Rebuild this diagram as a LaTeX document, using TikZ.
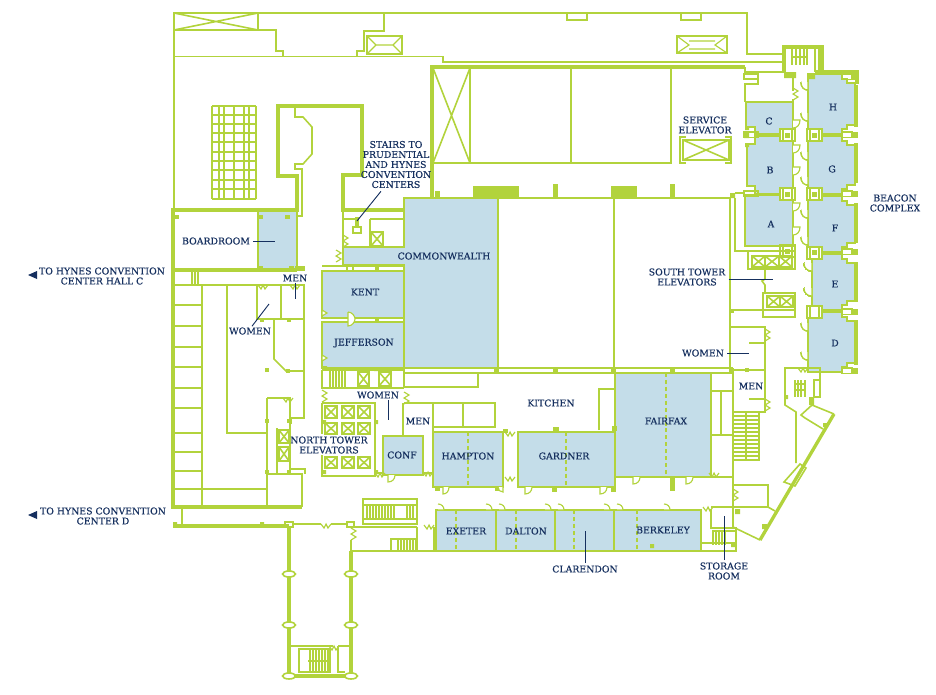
\documentclass[tikz,border=0pt]{standalone}
\usepackage{fontspec}
\setmainfont{DejaVu Serif}
\newfontfamily\planfont[FakeBold=0.25]{DejaVu Serif}
\definecolor{planline}{HTML}{B2D33C}
\definecolor{roomblue}{HTML}{C4DDE9}
\definecolor{labelnavy}{HTML}{16305F}
\tikzset{
  wall/.style={draw=planline,line width=1.2pt},
  thickwall/.style={draw=planline,line width=2.5pt},
  fine/.style={draw=planline,line width=.85pt},
  room/.style={fill=roomblue,draw=planline,line width=1.15pt},
  pillar/.style={fill=planline,draw=none},
  partition/.style={draw=planline,line width=1.1pt,dash pattern=on 3pt off 2.2pt},
  roomtext/.style={text=labelnavy,font=\planfont\fontsize{7}{7.5}\selectfont,align=center,inner sep=0pt},
  leader/.style={draw=labelnavy,line width=.7pt},
}
\newcommand{\crossbox}[4]{\draw [wall] (#1,#2) rectangle (#3,#4) (#1,#2) -- (#3,#4) (#1,#4) -- (#3,#2);}
\newcommand{\doorswing}[4]{\filldraw [fine,fill=white] (#1,#2) -- (#1+#3,#2) .. controls (#1+#3,#2+.6*#4) and (#1+.6*#3,#2+#4) .. (#1,#2+#4);}
\newcommand{\doorleaf}[4]{\filldraw [fine,fill=white] (#1,#2) -- (#1,#2+#4) .. controls (#1+.6*#3,#2+#4) and (#1+#3,#2+.6*#4) .. (#1+#3,#2);}
\newcommand{\notchh}[2]{\draw [fine] (#1,#2) -- (#1+3,#2+4) -- (#1+5,#2) -- (#1+7,#2+4) -- (#1+10,#2);}
\newcommand{\notchv}[2]{\draw [fine] (#1,#2) -- (#1+5,#2+3) -- (#1,#2+6) -- (#1+5,#2+9) -- (#1,#2+12);}
\newcommand{\pierbox}[2]{\filldraw [wall,fill=white] (#1,#2) rectangle (#1+15,#2+12) (#1+3,#2) -- (#1+3,#2+12) (#1+12,#2) -- (#1+12,#2+12);}
\newcommand{\wingroom}[3]{\draw [room] (#1,#2) -- (842,#2) -- (842,#2+5) -- (847,#2+5) -- (847,#2+9) -- (855,#2+9) -- (855,#3-9) -- (847,#3-9) -- (847,#3-5) -- (842,#3-5) -- (842,#3) -- (#1,#3) -- cycle;}
\begin{document}
\begin{tikzpicture}[x=0.75pt,y=-0.75pt]
\useasboundingbox (0,0) rectangle (936,694);
% rooms
\draw [room] (258,210) rectangle (297,270);
\draw [room] (343,247) -- (404,247) -- (404,198) -- (498,198) -- (498,368) -- (404,368) -- (404,265) -- (343,265) -- cycle;
\draw [room] (322,271) rectangle (404,318);
\draw [room] (322,322) rectangle (404,368);
\draw [room] (383,436) rectangle (423,475);
\draw [room] (433,432) rectangle (503,487);
\draw [room] (518,432) rectangle (615,487);
\draw [room] (615,373) rectangle (711,477);
\draw [room] (436,510) rectangle (496,551);
\draw [room] (496,510) rectangle (555,551);
\draw [room] (555,510) rectangle (614,551);
\draw [room] (614,510) rectangle (701,551);
\draw [room] (746,102) -- (793,102) -- (793,134) -- (755,134) -- (755,127) -- (746,127) -- cycle;
\draw [room] (755,136) -- (793,136) -- (793,194) -- (755,194) -- (755,186) -- (747,186) -- (747,144) -- (755,144) -- cycle;
\draw [room] (745,195) rectangle (793,246);
\wingroom{808}{74}{134}
\wingroom{808}{136}{194}
\wingroom{808}{196}{252}
\wingroom{812}{254}{310}
\wingroom{808}{312}{372}
\foreach \xx/\ya/\yb in {468/432/487,566/432/487,666/373/477,456/510/551,516/510/551,574/510/551,637/510/551}
  \draw [partition] (\xx,\ya) -- (\xx,\yb);
% top of the building
\draw [wall] (174,210) -- (174,13) -- (747,13) -- (747,54) -- (785,54);
\crossbox{174}{13}{258}{30}
\draw [wall] (258,30) -- (276,30) -- (276,51) -- (283,51) -- (283,56.5);
\draw [wall] (174,56.5) -- (443,56.5) -- (443,62) -- (785,62);
\draw [wall] (384,13) -- (384,31) -- (364,31) -- (364,51) -- (357,51) -- (357,56.5);
\draw [thickwall,line width=1.5pt] (367,36) rectangle (402,54);
\draw [fine] (367,36) -- (376,45) -- (367,54) (402,36) -- (393,45) -- (402,54) (376,45) -- (393,45);
\draw [thickwall,line width=1.5pt] (677,36) rectangle (727,53);
\draw [fine] (677,36) -- (689,45) -- (677,53) (727,36) -- (715,45) -- (727,53) (689,41) -- (715,41) (689,49) -- (715,49);
\foreach \xx in {567,681}
  \draw [wall] (\xx,13) -- (\xx,20) -- (\xx+20,20) -- (\xx+20,13);
% grid
\foreach \xx in {212,219,224,234,244,249,256}
  \draw [wall] (\xx,106) -- (\xx,199);
\foreach \yy in {106,115,124,133,142,152,161,170,180,189,199}
  \draw [wall] (212,\yy) -- (256,\yy);
% boardroom and centre court
\draw [thickwall] (173,270) -- (173,210) -- (297,210) -- (297,176) -- (278,176) -- (278,106) -- (362,106) -- (362,175) -- (343,175) -- (343,210) -- (403,210);
\draw [thickwall] (173,270) -- (297,270);
\draw [wall] (295,106) -- (295,117) -- (303,117) -- (312,127) -- (312,154) -- (303,164) -- (295,164) -- (295,169) -- (302,169) -- (302,216) -- (297,216);
\draw [wall] (343,212) -- (343,247) (343,219) -- (355,219) (370,219) -- (403,219) (370,219) -- (370,247);
\crossbox{371}{232}{383}{246}
\draw [wall] (353,227) rectangle (361,233);
\fill [pillar] (355,217) rectangle (358.5,227);
\notchv{343}{235}
\notchv{336}{250}
\foreach \xx/\yy in {174/215,258/215,285/215,258/266,289/266}
  \fill [pillar] (\xx,\yy) rectangle ++(5,4);
\fill [pillar] (295,266) rectangle (305,271);
% main hall
\draw [thickwall] (432,198) -- (432,67) -- (745,67);
\crossbox{433}{68}{470}{163}
\draw [wall] (470,163) -- (671,163) -- (671,68) (571,68) -- (571,163);
\draw [wall] (498,198) -- (730,198) -- (730,370) (498,198) -- (498,368) (614,198) -- (614,368);
\foreach \xa/\xb/\yy in {435/440/191,473/519/186,553/558/184,611/637/186,670/675/184,730/735/193}
  \fill [pillar] (\xa,\yy) rectangle (\xb,198);
\draw [wall] (404,373) -- (733,373) (498,368) -- (733,368);
\foreach \xx in {494,553,611,670,729}
  \fill [pillar] (\xx,368) rectangle ++(5,5);
\crossbox{683}{140}{729}{160}
\draw [wall] (680,141) -- (680,137) -- (686,137) (731,141) -- (731,137) -- (725,137) (680,159) -- (680,163) -- (686,163) (731,159) -- (731,163) -- (725,163) (680,141) -- (680,159) (731,141) -- (731,159);
% kent and jefferson
\draw [wall] (322,266) -- (404,266) (347,266) -- (347,271) (353,266) -- (353,271);
\fill [pillar] (375,266) rectangle ++(4,5);
\filldraw [fine,fill=white] (348,312) -- (348,326) .. controls (352,326) and (355,322) .. (355,319) .. controls (355,316) and (352,312) .. (348,312);
\fill [pillar] (375,318) rectangle ++(4,4);
\foreach \yy in {310,355}
  \filldraw [fine,fill=white] (322,\yy) -- (327,\yy+3) -- (322,\yy+6) -- cycle;
% wing of small rooms
\draw [wall] (745,67) -- (745,72) -- (784,72) (758,74) -- (758,84) -- (745,84) -- (745,102);
\draw [wall] (744,74) rectangle (758,79);
\draw [wall] (793,72) -- (793,91) (793,99) -- (793,102);
\notchv{793}{88}
\draw [thickwall] (784,73) -- (784,47) -- (822,47) -- (822,73) (815,72) -- (857,72) -- (857,84);
\foreach \xx in {792,796,800,804,807}
  \draw [fine] (\xx,49) -- (\xx,65);
\draw [fine] (791,57) -- (807,57);
\draw [fine] (815,48) -- (815,72) (819,48) -- (819,72);
\fill [pillar] (784,72) rectangle (796,78) (807,73) rectangle (815,79);
\foreach \ya/\yb in {85/127,143/183,203/243,262/302,320/365}
  \draw [thickwall] (856,\ya) -- (856,\yb);
\foreach \yy in {74,132,191,249,309,368}{
  \draw [wall] (842,\yy) rectangle (852,\yy+5.5);
  \fill [pillar] (851,\yy-.5) rectangle (858,\yy+6);
}
\foreach \yy in {132,191}{
  \draw [wall] (744,\yy) rectangle (758,\yy+5.5);
}
\fill [pillar] (744,132) rectangle (749,138) (745,126) rectangle (749,130) (745,143) rectangle (749,147) (730,193) rectangle (735,198);
\foreach \xx/\yy in {780/129,780/188,780/245,807/129,807/188,807/247,807/306}
  \pierbox{\xx}{\yy}
\foreach \xx/\yy in {785/133,785/192,785/249,812/133,812/192,812/250}
  \fill [pillar] (\xx,\yy) rectangle ++(5,5);
\foreach \yy in {120,145,167,203,227}
  \doorswing{793}{\yy}{7}{8}
\foreach \yy in {82,113,152,177,210,237,323,352}
  \doorleaf{808}{\yy}{-7}{8}
\foreach \yy in {263,288}
  \doorleaf{812}{\yy}{-8}{8}
\draw [wall] (735,193) -- (745,193) (735,198) -- (735,251) -- (745,251) (745,246) -- (795,246) (745,251) -- (795,251);
\draw [wall] (748,252) -- (748,269) -- (795,269) -- (795,252);
\draw [wall] (752,256) rectangle (792,267);
\crossbox{752}{256}{765}{267}
\crossbox{765}{256}{779}{267}
\crossbox{779}{256}{792}{267}
\draw [wall] (763,293) rectangle (795,317);
\crossbox{767}{296}{780}{307}
\crossbox{780}{296}{793}{307}
\draw [wall] (765,269) -- (765,279) -- (762,281) -- (765,285) -- (765,293);
% south tower wash rooms
\draw [wall] (730,310) -- (795,310);
\draw [wall] (730,327) -- (765,327) -- (765,412) -- (733,412) (749,343) -- (765,343) (749,399) -- (765,399) (730,370) -- (765,370);
\notchv{765}{329}
\notchv{765}{399}
\foreach \xx/\yy in {730/309,745/368}
  \fill [pillar] (\xx,\yy) rectangle ++(4,4);
\foreach \yy in {412,416,420,424,428,432,436,440,444,448,452,456,460}
  \draw [fine] (733,\yy) -- (759,\yy);
\draw [wall] (759,412) -- (759,461) (746,412) -- (746,461);
\draw [wall] (733,373) -- (733,527) -- (760,540);
\draw [wall] (711,391) -- (733,391) (721,391) -- (721,435) (711,435) -- (733,435);
\draw [wall] (733,485) -- (768,485) -- (768,507) -- (733,507) (768,507) -- (775,511);
\notchv{733}{489}
\draw [wall] (785,397) -- (785,368) -- (820,368) -- (820,397) (785,397) -- (785,405) -- (796,412) -- (796,463);
\notchh{798}{368}
\foreach \xx in {795,798,801,805}
  \draw [fine] (\xx,380) -- (\xx,397);
\draw [fine] (794,384) -- (806,384) (794,390) -- (806,390);
\draw [wall] (814,380) rectangle (820,397);
\draw [wall] (784,482) -- (800,464) -- (806,468) -- (795,486) -- cycle;
\draw [thickwall] (834,414) -- (760,540);
\draw [wall] (812,405) -- (834,414) (812,405) -- (801,415) -- (805,418) -- (823,429);
\fill [pillar] (809,397) rectangle (814,405) (823,423) rectangle (827,427) (735,509) rectangle (740,514) (762,524) rectangle (767,529) (785,395) rectangle (788,399);
% kitchen and lower rooms
\draw [wall] (404,368) -- (404,387) -- (478,387) -- (478,373);
\notchv{404}{392}
\draw [wall] (404,403) -- (495,403) -- (495,427) -- (433,427) (463,403) -- (463,427) (403,403) -- (403,436) (433,403) -- (433,432);
\draw [wall] (599,430) -- (599,389) -- (615,389);
\foreach \xx/\yy/\ww/\hh in {503/429/5/4,553/427/6/5,612/426/5/5,552/488/5/4,611/488/5/4,495/487/5/4,435/487/5/4}
  \fill [pillar] (\xx,\yy) rectangle ++(\ww,\hh);
\notchh{505}{432}
\notchh{505}{477}
\doorleaf{443}{487}{6}{7}
\doorleaf{525}{487}{7}{7}
\doorleaf{600}{487}{7}{7}
\doorleaf{503}{487}{-5}{5}
\draw [wall] (711,477) -- (733,477);
\notchh{709}{473}
\doorleaf{633}{477}{7}{7}
\doorleaf{686}{477}{7}{7}
\fill [pillar] (670,478) rectangle (675,491);
% lower band
\foreach \xx in {438,486,499,545,558,604,617,664}
  \doorswing{\xx}{510}{6}{-6}
\draw [wall] (701,510) -- (701,551) -- (736,551) -- (736,528) -- (711,528) -- (711,509) (701,543) -- (736,543);
\notchh{703}{507}
\draw [wall] (711,507) -- (733,507);
\foreach \xx in {713,716,719,722,725}
  \draw [fine] (\xx,531) -- (\xx,545);
\fill [pillar] (731,543) rectangle (736,547) (650,544) rectangle (654,548);
\draw [wall] (712,531) -- (735,531);
% north tower
\draw [wall] (322,370) -- (322,388) -- (404,388) (322,370) -- (404,370) (322,403) -- (322,434) (322,455) -- (322,476) -- (375,476) -- (375,403) -- (322,403);
\notchv{322}{390}
\foreach \xx in {330,333,336,339,342,345}
  \draw [fine] (\xx,371) -- (\xx,387);
\crossbox{358}{372}{369}{386}
\crossbox{379}{372}{391}{386}
\foreach \xx in {325,342,358}{
  \crossbox{\xx}{406}{\xx+12}{418}
  \crossbox{\xx}{423}{\xx+12}{434}
  \crossbox{\xx}{457}{\xx+12}{468}
}
\notchh{375}{473}
\notchh{423}{472}
\draw [wall] (375,473) -- (383,473) (423,473) -- (433,473);
\doorleaf{388}{475}{7}{7}
\foreach \xx in {322,374}
  \fill [pillar] (\xx,420) rectangle ++(4,4) (\xx,470) rectangle ++(4,4);
\fill [pillar] (322,366) rectangle ++(5,4) (374,367) rectangle ++(4,4);
% west block
\draw [thickwall] (173,270) -- (173,507) -- (302,507);
\draw [wall] (173,285) -- (304,285) -- (304,418) -- (291,418) -- (291,424);
\draw [wall] (192,270) -- (192,285) (195,270) -- (195,285) (198,270) -- (198,285);
\foreach \yy in {305,326,347,367,388,408,433,452,471,489}
  \draw [wall] (174,\yy) -- (202,\yy);
\draw [wall] (202,285) -- (202,507) (227,285) -- (227,433) -- (267,433) (202,489) -- (267,489) (267,398) -- (267,507);
\draw [wall] (257,285) -- (257,319) -- (304,319) (281,285) -- (281,319);
\notchh{258}{285}
\notchh{290}{285}
\draw [wall] (274,319) -- (274,359) -- (286,371) -- (304,371);
\draw [wall] (267,398) -- (290,398) -- (290,474) (277,428) -- (277,474) (267,474) -- (302,474) -- (302,507) (290,469) -- (305,469) -- (305,474);
\notchh{283}{398}
\crossbox{279}{430}{289}{443}
\crossbox{279}{447}{289}{461}
\foreach \xx/\yy in {260/318,287/318,265/368,286/369,265/419,287/419,265/470,287/470}
  \fill [pillar] (\xx,\yy) rectangle ++(4,4);
% south corridor
\draw [wall] (182,507) -- (182,526);
\draw [thickwall] (173,526) -- (289,526);
\fill [pillar] (173,522) rectangle ++(4,5) (260,522) rectangle ++(4,5);
\draw [wall] (285,522) rectangle (293,527) (347,522) rectangle (354,527);
\draw [wall] (293,524) -- (321,524) (331,524) -- (347,524) (354,527) -- (417,527);
\notchh{321}{524}
\notchv{351}{528}
\draw [wall] (351,540) -- (351,551) -- (436,551) (434,527) -- (434,551) (417,527) -- (417,539);
\notchh{424}{525}
\draw [wall] (391,551) -- (391,539) -- (417,539) -- (417,551);
\foreach \xx in {398,401,404,407,410,413,416}
  \draw [fine] (\xx,540) -- (\xx,550);
\draw [wall] (363,499) rectangle (417,524) (363,505) -- (417,505) (363,519) -- (417,519);
\foreach \xx in {367,370,373,376,379,382,385,388,391,394,407,410,413}
  \draw [fine] (\xx,505) -- (\xx,519);
\draw [thickwall] (289,527) -- (289,676) -- (351,676) -- (351,551);
\foreach \yy in {574,625,676}{
  \filldraw [wall,fill=white] (289,\yy) ellipse (6.5 and 3);
  \filldraw [wall,fill=white] (351,\yy) ellipse (6.5 and 3);
}
\draw [wall] (289,646) -- (333,646) (338,646) -- (351,646) (338,646) -- (338,672) -- (345,672);
\notchh{329}{646}
\draw [wall] (299,649) rectangle (330,672);
\foreach \xx in {310,313,316,319,322,325,328}
  \draw [fine] (\xx,650) -- (\xx,671);
\draw [fine] (308,661) -- (330,661);
% labels
\node (lblboard) at (216,241) [roomtext] {BOARDROOM};
\node (lblstairs) at (396,164.5) [roomtext] {STAIRS TO\\PRUDENTIAL\\AND HYNES\\CONVENTION\\CENTERS};
\node (lblcommon) at (444,256) [roomtext] {COMMONWEALTH};
\node (lblkent) at (365,292) [roomtext] {KENT};
\node (lbljeff) at (364,343) [roomtext] {JEFFERSON};
\node (lblmenw) at (295,278) [roomtext] {MEN};
\node (lblwomenw) at (250,331) [roomtext] {WOMEN};
\node (lblwomenn) at (378,395) [roomtext] {WOMEN};
\node (lblmenn) at (418,421) [roomtext] {MEN};
\node (lblnorth) at (329,445) [roomtext] {NORTH TOWER\\ELEVATORS};
\node (lblconf) at (402,455) [roomtext] {CONF};
\node (lblhampton) at (468,456) [roomtext] {HAMPTON};
\node (lblkitchen) at (551,403) [roomtext] {KITCHEN};
\node (lblgardner) at (564,456) [roomtext] {GARDNER};
\node (lblfairfax) at (666,421) [roomtext] {FAIRFAX};
\node (lblexeter) at (466,531) [roomtext] {EXETER};
\node (lbldalton) at (526,531) [roomtext] {DALTON};
\node (lblberkeley) at (663,530) [roomtext] {BERKELEY};
\node (lblclarendon) at (585,569) [roomtext] {CLARENDON};
\node (lblstorage) at (724,571) [roomtext] {STORAGE\\ROOM};
\node (lblwomens) at (703,353) [roomtext] {WOMEN};
\node (lblmens) at (751,386) [roomtext] {MEN};
\node (lblsouth) at (687,277) [roomtext] {SOUTH TOWER\\ELEVATORS};
\node (lblservice) at (705,125) [roomtext] {SERVICE\\ELEVATOR};
\node (lblbeacon) at (895,203) [roomtext] {BEACON\\COMPLEX};
\node (lbla) at (771,224) [roomtext] {A};
\node (lblb) at (770,170) [roomtext] {B};
\node (lblc) at (769,121) [roomtext] {C};
\node (lbld) at (835,343) [roomtext] {D};
\node (lble) at (835,284) [roomtext] {E};
\node (lblf) at (835,228) [roomtext] {F};
\node (lblg) at (832,169) [roomtext] {G};
\node (lblh) at (833,107) [roomtext] {H};
\node (lblhallc) at (102,276) [roomtext] {TO HYNES CONVENTION\\CENTER HALL C};
\node (lblhalld) at (103,516) [roomtext] {TO HYNES CONVENTION\\CENTER D};
\fill [labelnavy] (28,275) -- (37,271) -- (37,279) -- cycle;
\fill [labelnavy] (28,515) -- (37,511) -- (37,519) -- cycle;
% leaders
\coordinate (endboard) at (275,241);
\coordinate (endstairs) at (357,221);
\coordinate (endwomenw) at (269,304);
\coordinate (endmenw) at (295,299);
\coordinate (endwomenn) at (388,420);
\coordinate (endsouth) at (773,279);
\coordinate (endwomens) at (749,353);
\coordinate (endclarendon) at (585,531);
\coordinate (endstorage) at (724,516);
\draw [leader] (lblboard.east) ++(3,0) -- (endboard);
\draw [leader] (lblstairs.south) ++(-15,3) -- (endstairs);
\draw [leader] (lblwomenw.north) ++(2,-1) -- (endwomenw);
\draw [leader] (lblmenw.south) ++(0,1) -- (endmenw);
\draw [leader] (lblwomenn.south) ++(10,1) -- (endwomenn);
\draw [leader] (lblsouth.east) ++(3,2) -- (endsouth);
\draw [leader] (lblwomens.east) ++(3,0) -- (endwomens);
\draw [leader] (lblclarendon.north) ++(0,-2) -- (endclarendon);
\draw [leader] (lblstorage.north) ++(0,-2) -- (endstorage);
\end{tikzpicture}
\end{document}
